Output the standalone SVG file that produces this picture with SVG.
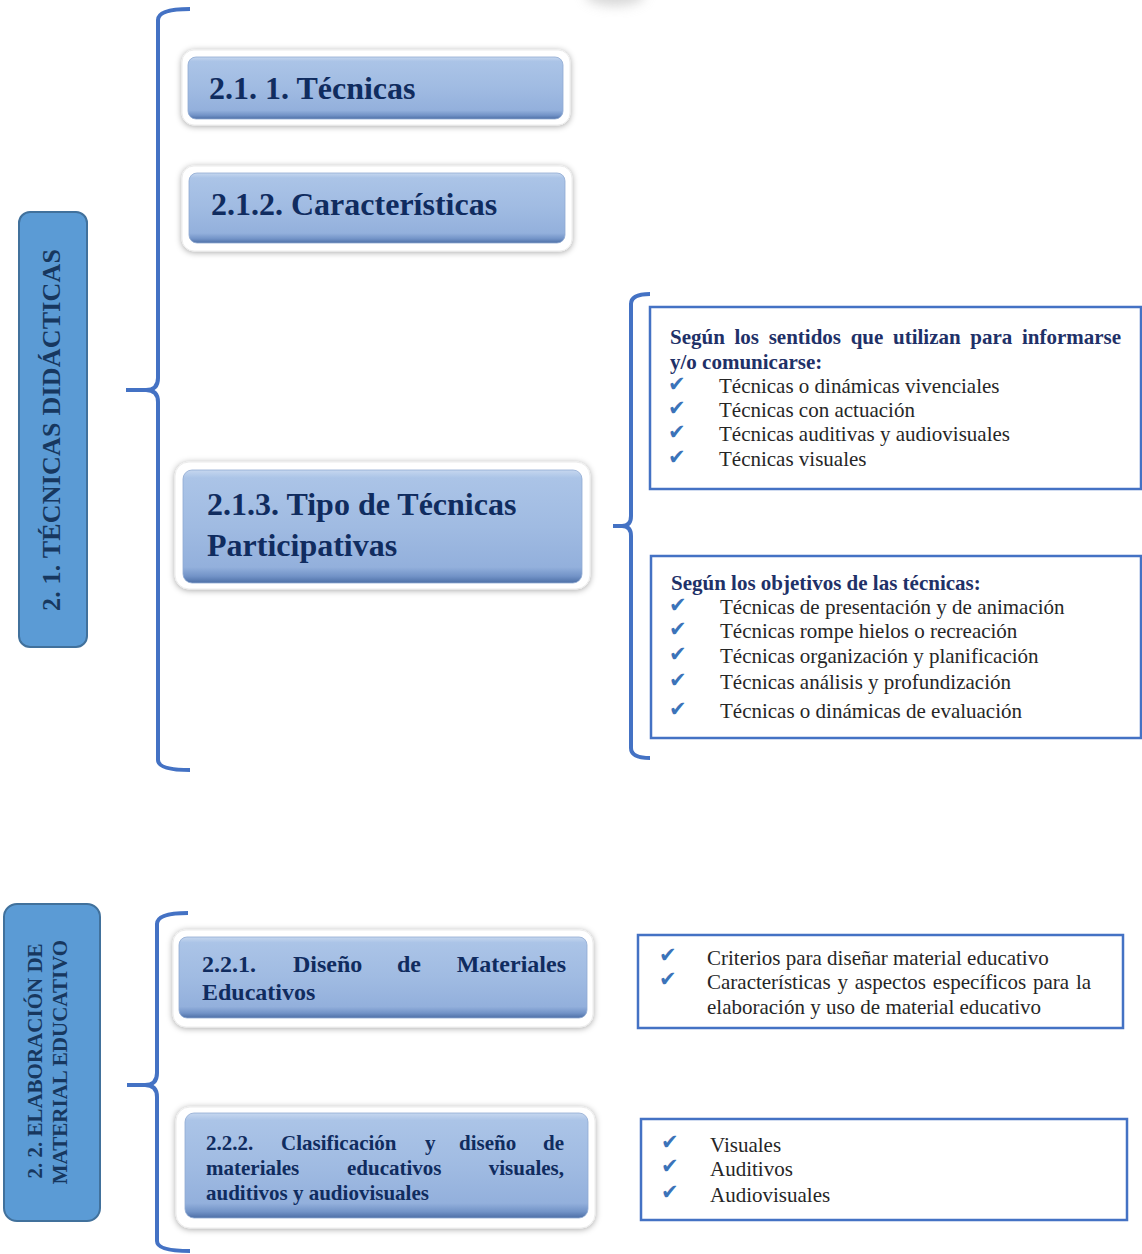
<svg xmlns="http://www.w3.org/2000/svg" width="1142" height="1254" viewBox="0 0 1142 1254">
<defs>
<linearGradient id="nodeFill" x1="0" y1="0" x2="0" y2="1">
<stop offset="0" stop-color="#c6d7ef"/>
<stop offset="0.07" stop-color="#abc4e7"/>
<stop offset="0.5" stop-color="#a0bbe2"/>
<stop offset="0.86" stop-color="#93b0dc"/>
<stop offset="0.94" stop-color="#7293c7"/>
<stop offset="1" stop-color="#4d6fa6"/>
</linearGradient>
<filter id="sh" x="-10%" y="-30%" width="120%" height="160%">
<feDropShadow dx="0" dy="1" stdDeviation="3" flood-color="#000" flood-opacity="0.35"/>
</filter>
<filter id="blur" x="-50%" y="-50%" width="200%" height="200%">
<feGaussianBlur stdDeviation="6"/>
</filter>
<style>
.frame{fill:#ffffff;stroke:#ececec;stroke-width:1;filter:url(#sh)}
.inner{fill:url(#nodeFill);stroke:#8fa9d2;stroke-width:0.8}
.nt{font-family:"Liberation Serif","Times New Roman",serif;font-weight:bold;fill:#102c5f}
.side{fill:#5b9bd5;stroke:#41719c;stroke-width:2}
.st{font-family:"Liberation Serif","Times New Roman",serif;font-weight:bold;fill:#17375e}
.box{fill:#ffffff;stroke:#4472c4;stroke-width:2.5}
.bt{font-family:"Liberation Serif","Times New Roman",serif;font-weight:bold;font-size:21px;fill:#1f3168}
.it{font-family:"Liberation Serif","Times New Roman",serif;font-size:21px;fill:#262626}
.chk{font-family:"DejaVu Sans",sans-serif;font-size:21px;fill:#3b73b9}
.br{fill:none;stroke:#4472c4;stroke-width:4;stroke-linecap:butt;stroke-linejoin:round}
</style>
</defs>
<rect width="1142" height="1254" fill="#ffffff"/>
<ellipse cx="615" cy="-6" rx="30" ry="12" fill="#bdbdbd" opacity="0.6" filter="url(#blur)"/>

<g id="connectors">
<path class="br" d="M190,9 Q158,9 158,20 L158,378 Q158,390 146,390 L126,390 M146,390 Q158,390 158,402 L158,760 Q158,770 190,770"/>
<path class="br" d="M650,294 Q631,294 631,304 L631,516 Q631,526 622,526 L613,526 M622,526 Q631,526 631,536 L631,748 Q631,758 650,758"/>
<path class="br" d="M188,913 Q157,913 157,924 L157,1073 Q157,1085 145,1085 L127,1085 M145,1085 Q157,1085 157,1097 L157,1241 Q157,1251 190,1251"/>
</g>

<g id="n21">
<rect class="side" x="19" y="212" width="68" height="435" rx="11"/>
<text class="st" font-size="26" text-anchor="middle" textLength="362" transform="translate(60,430) rotate(-90)">2. 1. TÉCNICAS DIDÁCTICAS</text>
</g>

<g id="n211">
<rect class="frame" x="182" y="50" width="388" height="75" rx="12"/>
<rect class="inner" x="188" y="57" width="375" height="62" rx="8"/>
<text class="nt" font-size="32" x="209" y="99">2.1. 1. Técnicas</text>
</g>

<g id="n212">
<rect class="frame" x="182" y="166" width="390" height="85" rx="12"/>
<rect class="inner" x="189" y="173" width="376" height="70" rx="8"/>
<text class="nt" font-size="32" x="211" y="215">2.1.2. Características</text>
</g>

<g id="n213">
<rect class="frame" x="175" y="462" width="415" height="127" rx="14"/>
<rect class="inner" x="183" y="470" width="399" height="113" rx="9"/>
<text class="nt" font-size="32" x="207" y="515">2.1.3. Tipo de Técnicas</text>
<text class="nt" font-size="32" x="207" y="556">Participativas</text>
</g>

<g id="boxA">
<rect class="box" x="650" y="307" width="491" height="182"/>
<text class="bt" x="670" y="344" word-spacing="4.4">Según los sentidos que utilizan para informarse</text>
<text class="bt" x="670" y="369">y/o comunicarse:</text>
<text class="chk" x="668" y="391">✔</text><text class="it" x="719" y="393">Técnicas o dinámicas vivenciales</text>
<text class="chk" x="668" y="415">✔</text><text class="it" x="719" y="417">Técnicas con actuación</text>
<text class="chk" x="668" y="439">✔</text><text class="it" x="719" y="441">Técnicas auditivas y audiovisuales</text>
<text class="chk" x="668" y="464">✔</text><text class="it" x="719" y="466">Técnicas visuales</text>
</g>

<g id="boxB">
<rect class="box" x="651" y="556" width="490" height="182"/>
<text class="bt" x="671" y="590">Según los objetivos de las técnicas:</text>
<text class="chk" x="669" y="612">✔</text><text class="it" x="720" y="614">Técnicas de presentación y de animación</text>
<text class="chk" x="669" y="636">✔</text><text class="it" x="720" y="638">Técnicas rompe hielos o recreación</text>
<text class="chk" x="669" y="661">✔</text><text class="it" x="720" y="663">Técnicas organización y planificación</text>
<text class="chk" x="669" y="687">✔</text><text class="it" x="720" y="689">Técnicas análisis y profundización</text>
<text class="chk" x="669" y="716">✔</text><text class="it" x="720" y="718">Técnicas o dinámicas de evaluación</text>
</g>

<g id="n22">
<rect class="side" x="4" y="904" width="96" height="317" rx="13"/>
<text class="st" font-size="21" text-anchor="middle" transform="translate(42,1061) rotate(-90)">2. 2. ELABORACIÓN DE</text>
<text class="st" font-size="21" text-anchor="middle" transform="translate(67,1062) rotate(-90)">MATERIAL EDUCATIVO</text>
</g>

<g id="n221">
<rect class="frame" x="173" y="930" width="420" height="97" rx="13"/>
<rect class="inner" x="179" y="937" width="408" height="81" rx="8"/>
<text class="nt" font-size="24" x="202" y="972">2.2.1.</text>
<text class="nt" font-size="24" x="293" y="972">Diseño</text>
<text class="nt" font-size="24" x="397" y="972">de</text>
<text class="nt" font-size="24" x="566" y="972" text-anchor="end">Materiales</text>
<text class="nt" font-size="24" x="202" y="1000">Educativos</text>
</g>

<g id="n222">
<rect class="frame" x="176" y="1107" width="419" height="121" rx="14"/>
<rect class="inner" x="185" y="1113" width="403" height="105" rx="9"/>
<text class="nt" font-size="21" x="206" y="1150">2.2.2.</text>
<text class="nt" font-size="21" x="281" y="1150">Clasificación</text>
<text class="nt" font-size="21" x="425" y="1150">y</text>
<text class="nt" font-size="21" x="459" y="1150">diseño</text>
<text class="nt" font-size="21" x="564" y="1150" text-anchor="end">de</text>
<text class="nt" font-size="21" x="206" y="1175">materiales</text>
<text class="nt" font-size="21" x="347" y="1175">educativos</text>
<text class="nt" font-size="21" x="564" y="1175" text-anchor="end">visuales,</text>
<text class="nt" font-size="21" x="206" y="1200">auditivos y audiovisuales</text>
</g>

<g id="boxC">
<rect class="box" x="638" y="935" width="485" height="93"/>
<text class="chk" x="659" y="962">✔</text><text class="it" x="707" y="965">Criterios para diseñar material educativo</text>
<text class="chk" x="659" y="986">✔</text><text class="it" x="707" y="989" word-spacing="1.6">Características y aspectos específicos para la</text>
<text class="it" x="707" y="1014">elaboración y uso de material educativo</text>
</g>

<g id="boxD">
<rect class="box" x="641" y="1119" width="486" height="101"/>
<text class="chk" x="661" y="1149">✔</text><text class="it" x="710" y="1152">Visuales</text>
<text class="chk" x="661" y="1173">✔</text><text class="it" x="710" y="1176">Auditivos</text>
<text class="chk" x="661" y="1199">✔</text><text class="it" x="710" y="1202">Audiovisuales</text>
</g>
</svg>
